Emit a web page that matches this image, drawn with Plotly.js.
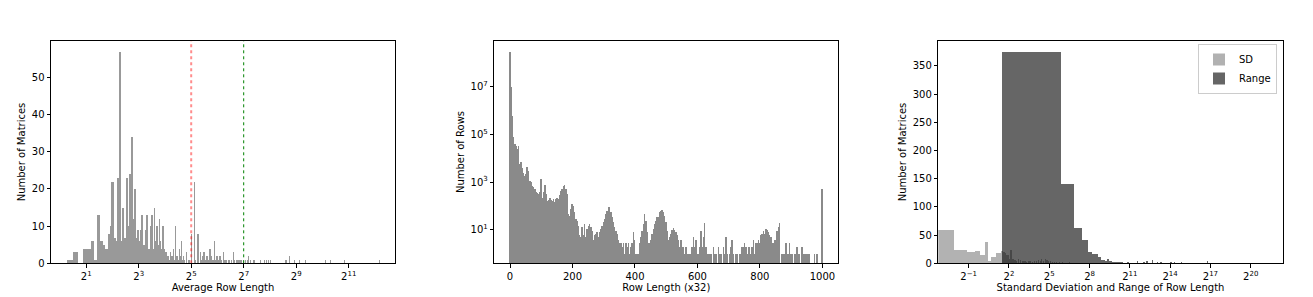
<!DOCTYPE html>
<html><head><meta charset="utf-8">
<script src="https://cdn.plot.ly/plotly-3.0.1.min.js"></script>
<style>html,body{margin:0;padding:0;background:#fff;} #chart{width:1313px;height:297px;}</style>
</head><body><div id="chart"></div>
<script>
// ---------- Panel 1: average row length histogram ----------
const avgRowLen = [1.305,1.515,1.935,2.145,2.355,2.565,2.775,2.985,3.195,3.405,3.615,3.825,4.035,4.245,4.455,4.665,4.875,5.085,5.295,5.505,5.715,5.925,6.135,6.345,6.555,6.765,6.975,7.185,7.395,7.605,7.815,
 8.13,8.33,8.5,8.8,9.19,9.4,9.62,9.96,10.2,10.5,10.75,10.97,11.37,11.6,11.77,12.09,12.3,12.54,12.97,13.3,13.55,13.8,14.17,14.4,14.69,14.95,15.2,15.5,15.75,16.1,16.45,17.0,17.66,18.0,18.62,19.27,19.9,20.15,20.7,21.24,21.8,22.4,23.0,23.6,24.3,24.9,25.6,26.24,27.0,28.1,29.65,30.5,
 32.2,34.7,36,38.3,40.7,42.5,43.7,44.9,46,48.5,50,52.6,55.3,57,59.5,61,63.2,66,68.4,71,74.7,77,80.2,85,88,92,97.3,101,105,109,113,117,122,128,133.5,140,147,155,168,197,220,235,248,261,384,398,427,492,556,651,1104,1273,1842,4600];
const avgCount = [1,3,4,4,6,1,13,6,5,4,8,10,22,7,6,23,57,6,15,7,7,23,10,24,11,34,12,20,6,7,9,
 6,3,9,13,5,2,9,13,3,4,2,10,13,2,4,15,3,6,10,5,3,12,6,2,4,3,10,2,4,1,3,2,2,1,3,2,1,4,1,10,2,2,1,4,2,6,1,2,1,3,1,1,
 8,22,1,8,3,1,2,3,1,2,1,4,2,1,6,1,2,1,2,1,3,1,1,1,1,1,3,1,1,1,1,1,1,1,1,1,2,1,1,1,1,1,1,1,1,1,2,1,1,1,1,1,1,1];
const avgTicks = [2, 8, 32, 128, 512, 2048];
const avgTickText = ['2<sup>1</sup>','2<sup>3</sup>','2<sup>5</sup>','2<sup>7</sup>','2<sup>9</sup>','2<sup>11</sup>'];
const thresholdRed = 32, thresholdGreen = 128;

// ---------- Panel 2: row length distribution (bins of 4, x32) ----------
const rowLenStep = 4;
const rowCount = [
 3e8,1e7,6e5,8e4,4e4,3.5e4,2.5e4,3.5e4,6000,7000,
 4000,2600,1900,2200,4300,3100,1200,1000,720,620,
 530,380,350,320,380,1400,230,380,800,320,
 170,180,230,180,170,200,145,200,220,200,
 300,420,520,720,800,520,320,47,40,76,
 120,105,55,29,25,15,6,5,13,6,
 18,5,11,15,18,13,9,4,6,7,
 8,5,8,11,15,21,29,47,65,90,
 90,55,34,21,13,9,7,4,3,3,
 2,3,1,3,2,3,1,2,3,8,
 4,1,1,1,3,5,9,18,47,25,
 8,3,3,4,7,11,18,25,34,36,
 55,65,70,60,40,21,9,4,5,7,
 10,12,10,8,6,4,2,4,2,2,
 1,2,1,1,1,1,2,5,2,4,
 1,1,2,9,2,5,20,2,1,1,
 1,1,null,2,1,1,null,2,1,1,
 null,2,1,5,1,null,1,2,4,1,
 null,1,1,null,1,1,2,2,3,2,
 1,2,2,1,2,4,1,3,3,4,
 3,6,7,9,7,11,10,8,6,5,
 3,3,4,4,9,13,20,null,1,1,
 1,3,1,1,3,1,1,null,1,1,
 2,1,1,null,2,1,1,1,1,1,
 1,null,null,null,1,null,1,null,null,null,
 525];
const rowLen = rowCount.map((_, i) => i * rowLenStep);
const rowTicks = [0, 200, 400, 600, 800, 1000];
const rowYTicks = [10, 1e3, 1e5, 1e7];
const rowYTickText = ['10<sup>1</sup>','10<sup>3</sup>','10<sup>5</sup>','10<sup>7</sup>'];

// ---------- Panel 3: SD and range of row length ----------
const sdValue = [0.1165,0.3495,0.5825,0.8155,1.0485,1.2815,1.5145,1.7475,1.9805,2.2135,2.4465,2.6795,2.9125,3.1455,3.3785,3.6115,3.8445,4.0775,4.3105,4.5435,4.7765,5.0095,5.4755,5.9415,6.6405,7.3395,8.2715,9.2035,10.1355,11.3005,12.4655,13.8635,15.2615,17.0,18.8,20.9,22.0,24.3,26.5,28.8,31.5,35,38.8,43,47.6,55.7,65,75.8,93,109,156,230,400,800];
const sdCount = [59,25,20,22,15,38,5,11,12,18,18,18,22,20,18,15,15,8,8,24,6,9,6,5,8,6,4,4,3,5,4,3,4,5,6,5,8,4,8,7,4,5,3,3,2,2,2,1,2,1,1,1,1,1];
const rangeValue = [31.9,89.9,147.9,205.9,263.9,321.9,379.9,437.9,495.9,553.9,611.9,669.9,727.9,785.9,843.9,901.9,959.9,1017.9,1075.9,1133.9,1250,1400,1600,1900,2200,2600,3130,3700,4300,5050,6750,8750,10400,13000,17400,20800,29200,37000,49000,70000,97400,115000,180000,322000,600000,2150000];
const rangeCount = [376,141,63,42,20,17,17,11,7,6,5,9,4,4,3,3,2,3,2,2,2,2,1,2,1,1,5,1,2,4,6,3,2,1,3,2,2,1,1,1,1,5,1,1,1,1];
const sdRangeTicks = [0.5, 4, 32, 256, 2048, 16384, 131072, 1048576];
const sdRangeTickText = ['2<sup>\u22121</sup>','2<sup>2</sup>','2<sup>5</sup>','2<sup>8</sup>','2<sup>11</sup>','2<sup>14</sup>','2<sup>17</sup>','2<sup>20</sup>'];

// ---------- styles ----------
const W = 1313, H = 297;
const FONT = 'DejaVu Sans, Liberation Sans, sans-serif';
const yDom = [(H - 263.3) / H, (H - 40.7) / H];
const base = {
  showline: true, linecolor: '#000', linewidth: 1, mirror: true,
  ticks: 'outside', ticklen: 3.5, tickwidth: 0.8, tickcolor: '#000',
  showgrid: false, zeroline: false, tickfont: {size: 10, color: '#000', family: FONT},
  fixedrange: true, automargin: false
};
const ttl = (t, s) => ({text: t, font: {size: 10, color: '#000', family: FONT}, standoff: s});

const traces = [
  {type: 'bar', x: avgRowLen, y: avgCount, width: 0.21, marker: {color: '#999999', line: {width: 0}},
   xaxis: 'x', yaxis: 'y', showlegend: false, hoverinfo: 'x+y'},
  {type: 'scatter', mode: 'lines', x: [thresholdRed, thresholdRed], y: [0, 1000], xaxis: 'x', yaxis: 'y',
   line: {color: 'rgba(255,0,0,0.45)', width: 2, dash: 'dot'}, showlegend: false, hoverinfo: 'skip'},
  {type: 'scatter', mode: 'lines', x: [thresholdGreen, thresholdGreen], y: [0, 1000], xaxis: 'x', yaxis: 'y',
   line: {color: 'rgb(0,128,0)', width: 1, dash: 'dot'}, showlegend: false, hoverinfo: 'skip'},
  {type: 'bar', x: rowLen, y: rowCount, width: 2, marker: {color: '#8a8a8a', line: {width: 0}},
   xaxis: 'x2', yaxis: 'y2', showlegend: false},
  {type: 'bar', name: 'SD', x: sdValue, y: sdCount, width: 0.233, marker: {color: '#000', line: {width: 0}},
   opacity: 0.3, xaxis: 'x3', yaxis: 'y3'},
  {type: 'bar', name: 'Range', x: rangeValue, y: rangeCount, width: 58, marker: {color: '#000', line: {width: 0}},
   opacity: 0.6, xaxis: 'x3', yaxis: 'y3'}
];

const layout = {
  width: W, height: H, margin: {l: 0, r: 0, t: 0, b: 0},
  paper_bgcolor: '#fff', plot_bgcolor: '#fff',
  font: {family: FONT, size: 10, color: '#000'},
  barmode: 'overlay', bargap: 0,
  xaxis: Object.assign({}, base, {type: 'log', domain: [51 / W, 395 / W], range: [-0.1027, 3.8424],
    tickmode: 'array', tickvals: avgTicks, ticktext: avgTickText, anchor: 'y', title: ttl('Average Row Length', 3)}),
  yaxis: Object.assign({}, base, {domain: yDom, range: [0, 59.85], tickmode: 'array', tickvals: [0,10,20,30,40,50],
    anchor: 'x', title: ttl('Number of Matrices', 4)}),
  xaxis2: Object.assign({}, base, {domain: [494.3 / W, 838.3 / W], range: [-50.3, 1051],
    tickmode: 'array', tickvals: rowTicks, anchor: 'y2', title: ttl('Row Length (x32)', 3)}),
  yaxis2: Object.assign({}, base, {type: 'log', domain: yDom, range: [-0.406, 8.94], tickmode: 'array',
    tickvals: rowYTicks, ticktext: rowYTickText, anchor: 'x2', title: ttl('Number of Rows', 4)}),
  xaxis3: Object.assign({}, base, {type: 'log', domain: [938.3 / W, 1282.7 / W], range: [-0.9826, 6.738],
    tickmode: 'array', tickvals: sdRangeTicks, ticktext: sdRangeTickText, anchor: 'y3',
    title: ttl('Standard Deviation and Range of Row Length', 3)}),
  yaxis3: Object.assign({}, base, {domain: yDom, range: [0, 394.8], tickmode: 'array',
    tickvals: [0,50,100,150,200,250,300,350], anchor: 'x3', title: ttl('Number of Matrices', 4)}),
  showlegend: true,
  legend: {x: 1277 / W, y: 1 - 44 / H, xanchor: 'right', yanchor: 'top', bgcolor: 'rgba(255,255,255,0.8)',
    bordercolor: '#cccccc', borderwidth: 1, font: {size: 10, color: '#000', family: FONT}, traceorder: 'normal',
    itemwidth: 30, tracegroupgap: 0}
};

Plotly.newPlot('chart', traces, layout, {displayModeBar: false, responsive: false});
</script></body></html>
